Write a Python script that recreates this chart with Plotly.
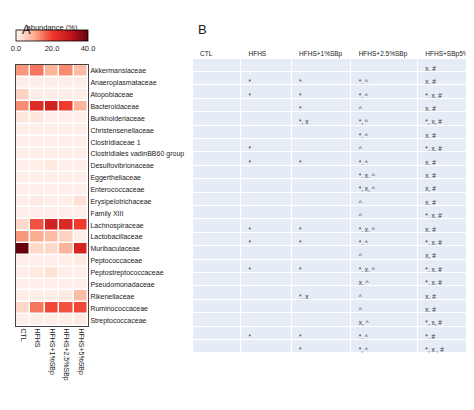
import plotly.graph_objects as go

W, H = 474, 410

GROUPS = ["CTL", "HFHS", "HFHS+1%SBp", "HFHS+2.5%SBp", "HFHS+5%SBp"]
TABLE_HEADER = ["CTL", "HFHS", "HFHS+1%SBp", "HFHS+2.5%SBp", "HFHS+SBp5%"]

FAMILIES = [
    "Akkermansiaceae", "Anaeroplasmataceae", "Atopobiaceae", "Bacteroidaceae",
    "Burkholderiaceae", "Christensenellaceae", "Clostridiaceae 1",
    "Clostridiales vadinBB60 group", "Desulfovibrionaceae", "Eggerthellaceae",
    "Enterococcaceae", "Erysipelotrichaceae", "Family XIII", "Lachnospiraceae",
    "Lactobacillaceae", "Muribaculaceae", "Peptococcaceae",
    "Peptostreptococcaceae", "Pseudomonadaceae", "Rikenellaceae",
    "Ruminococcaceae", "Streptococcaceae",
]

# abundance (%) per family, columns follow GROUPS
ABUNDANCE = [
    [12, 15, 9, 13, 8],
    [1, 1, 1, 1, 1],
    [5, 1, 1, 1, 1],
    [13, 24, 27, 20, 9],
    [2, 2, 1, 1, 1],
    [1, 1, 1, 1, 1],
    [1, 1, 1, 1, 1],
    [1, 1, 1, 1, 1],
    [1, 1, 1.5, 1, 1],
    [1, 1, 1, 1, 1],
    [1, 1, 1, 1, 1],
    [1, 1.5, 1, 1, 3],
    [1, 1, 1, 1, 1],
    [4, 18, 27, 25, 20],
    [12, 10, 8, 5, 1],
    [40, 4, 4, 9, 26],
    [1, 1, 1, 1, 1.5],
    [1, 1.5, 2.5, 1, 1],
    [1, 1, 1, 1, 1],
    [1, 1, 1, 1.5, 8],
    [4, 15, 19, 18, 19],
    [1, 1, 1, 1, 1.5],
]

COL_CTL = [""] * 22
COL_HFHS = ["", "*", "*", "", "", "", "*", "*", "", "", "", "", "*", "*", "",
            "*", "", "", "", "", "*", ""]
COL_1 = ["", "*", "*", "*", "*, x", "", "", "*", "", "", "", "", "*", "*", "",
         "*", "", "*, x", "", "", "*", "*"]
COL_25 = ["", "*, ^", "*, ^", "^", "*, ^", "*, ^", "^", "*, ^", "*, x, ^",
          "*, x, ^", "^", "^", "*, x, ^", "*, ^", "^", "*, x, ^", "x, ^", "^",
          "^", "x, ^", "*, ^", "*, ^"]
COL_5 = ["x, #", "x, #", "*, x, #", "x, #", "*, x, #", "x, #", "*, x, #",
         "x, #", "x, #", "x, #", "x, #", "*, x, #", "x, #", "*, x, #", "x, #",
         "*, x, #", "*, x, #", "x, #", "x, #", "*, x, #", "*, #", "*, x , #"]


def fx(px):
    return px / W


def fy(py):
    return 1 - py / H


fig = go.Figure()

fig.add_trace(go.Heatmap(
    z=ABUNDANCE, x=GROUPS, y=FAMILIES,
    zmin=0, zmax=40,
    colorscale=[[0, "#fff5f0"], [0.25, "#fcae91"], [0.5, "#ef3b2c"],
                [0.75, "#c4161c"], [1, "#67000d"]],
    xgap=1.5, ygap=1.5,
    colorbar=dict(
        orientation="h", x=fx(8), xanchor="left", y=fy(13), yanchor="top",
        xpad=0, ypad=0,
        len=72, lenmode="pixels", thickness=11, thicknessmode="pixels",
        tickvals=[0, 20, 40], ticktext=["0.0", "20.0", "40.0"],
        ticks="", outlinecolor="black", outlinewidth=0.8,
        tickfont=dict(size=7.5),
        title=dict(text="abundance (%)", side="top", font=dict(size=7.5)),
    ),
))

fig.add_trace(go.Table(
    domain=dict(x=[fx(184), fx(470)], y=[fy(352), fy(35)]),
    columnwidth=[48, 50, 59, 66, 60],
    header=dict(values=TABLE_HEADER, fill_color="white", line_color="white",
                align="left", height=15, font=dict(size=6.5, color="#222")),
    cells=dict(values=[COL_CTL, COL_HFHS, COL_1, COL_25, COL_5],
               fill_color="#e6ecf5", line=dict(color="white", width=1),
               align="left", height=13.4, font=dict(size=6.5, color="#333")),
))

fig.update_layout(
    width=W, height=H, margin=dict(l=0, r=0, t=0, b=0),
    plot_bgcolor="white", paper_bgcolor="white",
    font=dict(family="Arial, Liberation Sans", color="#222"),
    xaxis=dict(domain=[fx(8), fx(80)], tickangle=90, tickfont=dict(size=7),
               showline=True, linecolor="#444", mirror=True, ticks=""),
    yaxis=dict(domain=[fy(318), fy(57)], autorange="reversed", side="right",
               tickfont=dict(size=7), showline=True, linecolor="#444",
               mirror=True, ticks=""),
    annotations=[
        dict(text="A", x=fx(12), y=fy(12), xref="paper", yref="paper",
             showarrow=False, font=dict(size=13)),
        dict(text="B", x=fx(194), y=fy(12), xref="paper", yref="paper",
             showarrow=False, font=dict(size=13)),
    ],
)

fig.write_html("out.html")
